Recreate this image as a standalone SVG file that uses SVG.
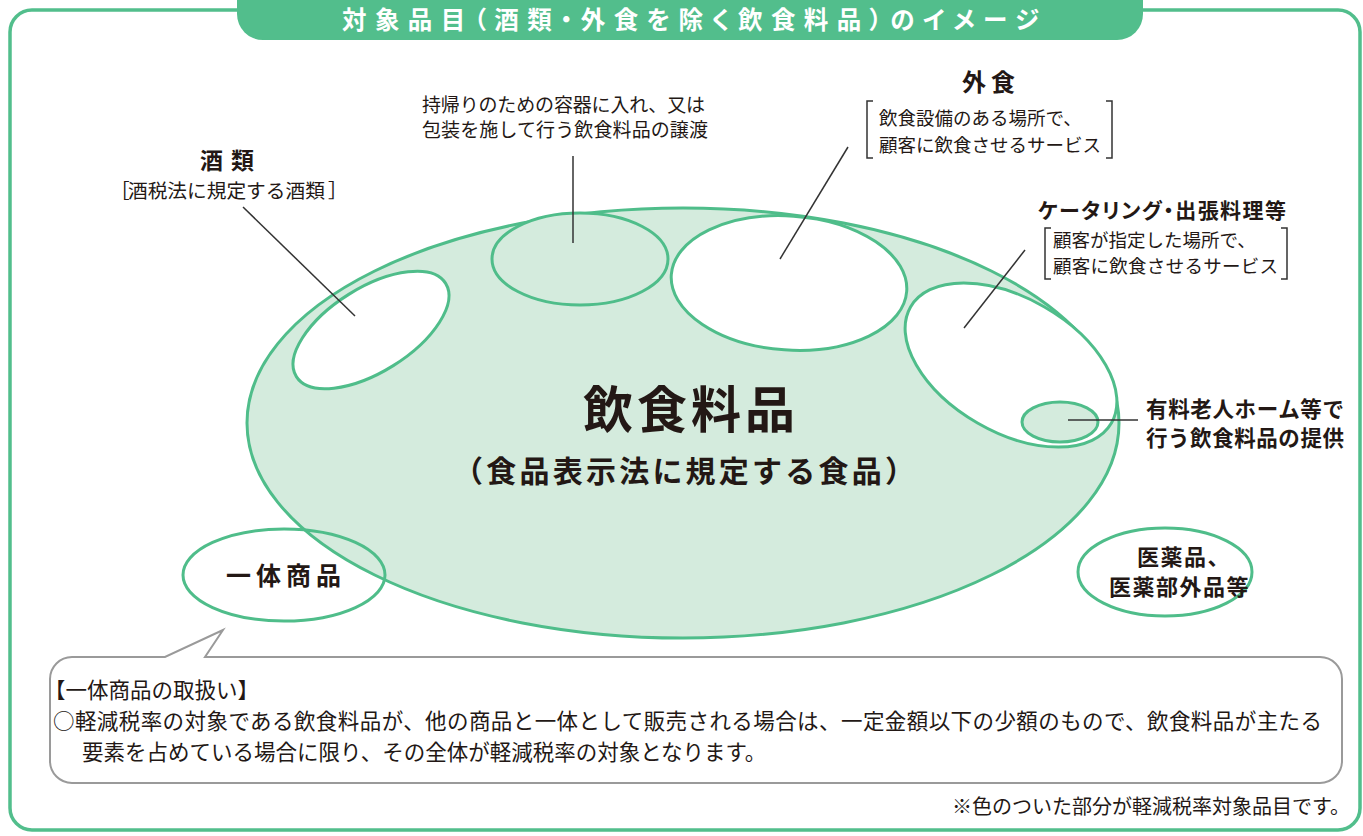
<svg xmlns="http://www.w3.org/2000/svg" width="1363" height="836" viewBox="0 0 1363 836">
<style>
text{font-family:"Noto Sans CJK JP","Noto Sans CJK SC",sans-serif;fill:#231815}
.b{font-weight:bold}
.n{font-weight:normal}
.p{font-feature-settings:"palt"}
.g{stroke:#4fbd8a;stroke-width:3}
.ld{stroke:#333;stroke-width:1.5;fill:none}
</style>
<rect x="10" y="10" width="1350" height="820" rx="22" fill="#fff" stroke="#52be8c" stroke-width="3.5"/>
<g id="title">
<path d="M237 0 V14 A26 26 0 0 0 263 40 H1117 A26 26 0 0 0 1143 14 V0 Z" fill="#52be8c"/>
<text x="342" y="28.5" class="b p" font-size="24.5" textLength="697" lengthAdjust="spacing" style="fill:#fff">対象品目（酒類・外食を除く飲食料品）のイメージ</text>
</g>
<g id="food">
<ellipse cx="683" cy="423" rx="436" ry="215" fill="#d4ebdd" class="g"/>
<text x="583" y="428" class="b" font-size="50" textLength="212" lengthAdjust="spacing">飲食料品</text>
<text x="684" y="482" class="b" font-size="30" text-anchor="middle" textLength="462" lengthAdjust="spacing">（食品表示法に規定する食品）</text>
</g>
<g id="alcohol">
<ellipse cx="371" cy="330" rx="88" ry="42" transform="rotate(-32 371 330)" fill="#fff" class="g"/>
<text x="200" y="169" class="b" font-size="23" letter-spacing="8">酒類</text>
<text class="n" font-size="19.7" y="198"><tspan x="110">［</tspan><tspan x="128">酒税法に規定する酒類</tspan><tspan x="328">］</tspan></text>
</g>
<g id="takeout">
<ellipse cx="580" cy="259" rx="88" ry="46" fill="#d4ebdd" class="g"/>
<text x="422" y="112" class="n" font-size="19" textLength="283" lengthAdjust="spacing">持帰りのための容器に入れ、又は</text>
<text x="422" y="137" class="n" font-size="19" textLength="286" lengthAdjust="spacing">包装を施して行う飲食料品の譲渡</text>
</g>
<g id="eatout">
<ellipse cx="789" cy="283" rx="118" ry="67" transform="rotate(4 789 283)" fill="#fff" class="g"/>
<text x="962" y="91" class="b" font-size="24" letter-spacing="5">外食</text>
<text x="879" y="125" class="n" font-size="18.5">飲食設備のある場所で、</text>
<text x="879" y="152" class="n" font-size="18.5" textLength="222" lengthAdjust="spacing">顧客に飲食させるサービス</text>
</g>
<g id="catering">
<ellipse cx="1011" cy="365" rx="116" ry="67" transform="rotate(30 1011 365)" fill="#fff" class="g"/>
<text x="1038" y="218" class="b p" font-size="21" textLength="248" lengthAdjust="spacing">ケータリング・出張料理等</text>
<text x="1053" y="247" class="n" font-size="18.5">顧客が指定した場所で、</text>
<text x="1053" y="273" class="n" font-size="18.5" textLength="225" lengthAdjust="spacing">顧客に飲食させるサービス</text>
</g>
<g id="nursing">
<ellipse cx="1060" cy="422" rx="38" ry="20" fill="#d4ebdd" class="g"/>
<text x="1146" y="417" class="b" font-size="21.5" textLength="198" lengthAdjust="spacing">有料老人ホーム等で</text>
<text x="1146" y="446" class="b" font-size="21.5" textLength="198" lengthAdjust="spacing">行う飲食料品の提供</text>
</g>
<g id="bundle">
<ellipse cx="284" cy="575" rx="101" ry="46" fill="none" class="g"/>
<text x="226" y="585" class="b" font-size="25" letter-spacing="5">一体商品</text>
</g>
<g id="medicine">
<ellipse cx="1165" cy="572" rx="87" ry="44" fill="#fff" class="g"/>
<text x="1137" y="565" class="b" font-size="22" letter-spacing="1.5">医薬品、</text>
<text x="1109" y="595" class="b" font-size="22" letter-spacing="1.5">医薬部外品等</text>
</g>
<g id="connectors">
<line x1="243" y1="207" x2="355" y2="316" class="ld"/>
<line x1="573" y1="156" x2="573" y2="243" class="ld"/>
<line x1="848" y1="147" x2="780" y2="259" class="ld"/>
<line x1="1025" y1="250" x2="964" y2="328" class="ld"/>
<line x1="1068" y1="420" x2="1138" y2="420" class="ld"/>
<path d="M873 101 H867 V158 H873 M1106 101 H1112 V158 H1106" class="ld"/>
<path d="M1051 228 H1045 V279 H1051 M1281 228 H1287 V279 H1281" class="ld"/>
</g>
<g id="note">
<path d="M72 657 H165 L223 630 L205 657 H1320 A22 22 0 0 1 1342 679 V761 A22 22 0 0 1 1320 783 H72 A22 22 0 0 1 50 761 V679 A22 22 0 0 1 72 657 Z" fill="#fff" stroke="#9a9a9a" stroke-width="2"/>
<text x="44" y="698" class="n" font-size="21.5">【一体商品の取扱い】</text>
<text x="53" y="729" class="n" font-size="21.5" textLength="1269" lengthAdjust="spacing">○軽減税率の対象である飲食料品が、他の商品と一体として販売される場合は、一定金額以下の少額のもので、飲食料品が主たる</text>
<text x="82" y="760" class="n" font-size="21.5">要素を占めている場合に限り、その全体が軽減税率の対象となります。</text>
</g>
<text x="1350" y="814" class="n" font-size="20" text-anchor="end">※色のついた部分が軽減税率対象品目です。</text>
</svg>
